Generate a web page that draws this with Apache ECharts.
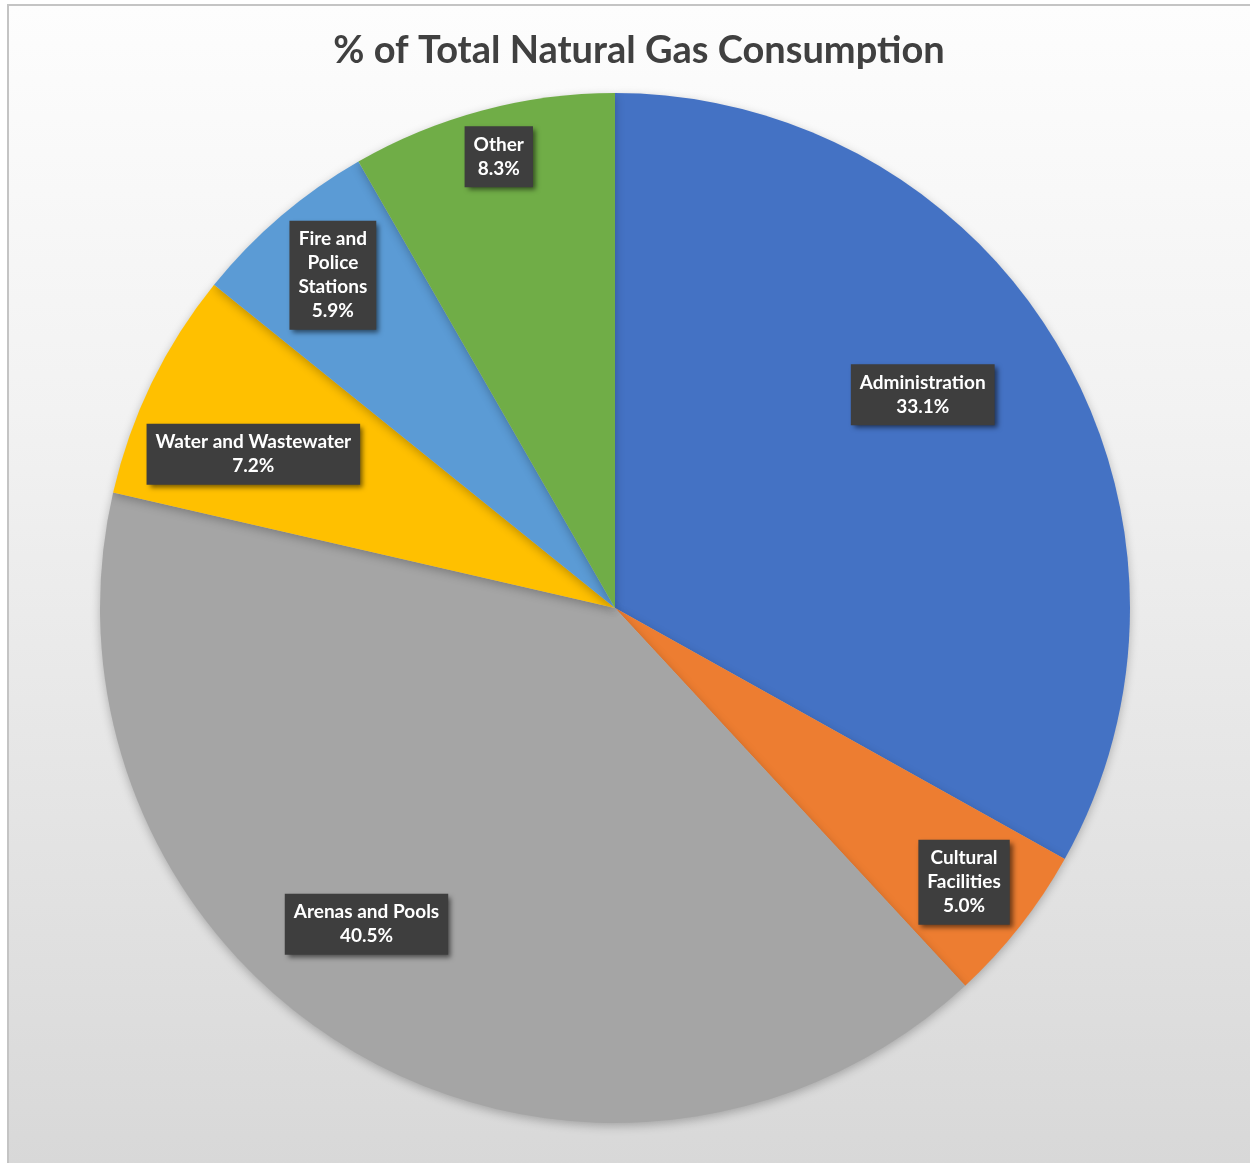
<!DOCTYPE html>
<html>
<head>
<meta charset="utf-8">
<title>% of Total Natural Gas Consumption</title>
<script src="https://cdn.jsdelivr.net/npm/echarts@6/dist/echarts.min.js"></script>
<style>
  html, body { margin: 0; padding: 0; width: 1250px; height: 1163px; overflow: hidden; background: #ffffff; }
  #frame {
    position: absolute; left: 7px; top: 4px; width: 1243px; height: 1159px;
    border-left: 2px solid #c4c4c4; border-top: 2px solid #c4c4c4;
    background: linear-gradient(to bottom, #fdfdfd 0%, #f2f2f2 35%, #e6e6e6 65%, #d8d8d8 100%);
  }
  #chart { position: absolute; left: 0; top: 0; width: 1250px; height: 1163px; }
</style>
</head>
<body>
<div id="frame"></div>
<div id="chart"></div>
<script>
// Share of natural gas consumption by facility type (percent)
const categories = [
  'Administration',
  'Cultural\nFacilities',
  'Arenas and Pools',
  'Water and Wastewater',
  'Fire and\nPolice\nStations',
  'Other'
];
const shares = [33.1, 5.0, 40.5, 7.2, 5.9, 8.3];
const sliceColors = ['#4472C4', '#ED7D31', '#A5A5A5', '#FFC000', '#5B9BD5', '#70AD47'];

// Label placement inside each slice: fraction of radius, and angular nudge (degrees)
const labelRadius = [0.727, 0.862, 0.781, 0.763, 0.847, 0.905];
const labelAngleShift = [4.3, 0, -8.1, 2.9, -0.2, -0.5];

const CX = 615, CY = 608, R = 515;
const total = shares.reduce((a, b) => a + b, 0);

// mid-angle of each slice (degrees, counter-clockwise from +x), starting at 12 o'clock going clockwise
const midAngles = [];
let acc = 0;
shares.forEach(v => {
  midAngles.push(90 - 360 * (acc + v / 2) / total);
  acc += v;
});

const chart = echarts.init(document.getElementById('chart'), null, { renderer: 'canvas' });

chart.setOption({
  backgroundColor: 'transparent',
  animation: false,
  title: {
    text: '% of Total Natural Gas Consumption',
    left: 634,
    textAlign: 'center',
    top: 27,
    textStyle: {
      fontFamily: 'Lato',
      fontWeight: 'bold',
      fontSize: 38,
      color: '#404040'
    }
  },
  series: [{
    type: 'pie',
    center: [CX, CY],
    radius: [0, R],
    startAngle: 90,
    clockwise: true,
    avoidLabelOverlap: false,
    itemStyle: {
      borderWidth: 0,
      shadowBlur: 10,
      shadowOffsetY: 3,
      shadowColor: 'rgba(0,0,0,0.25)'
    },
    label: {
      show: true,
      position: 'inside',
      formatter: p => p.name + '\n' + p.value.toFixed(1) + '%',
      fontFamily: 'Lato',
      fontWeight: 'bold',
      fontSize: 19,
      lineHeight: 24,
      color: '#ffffff',
      align: 'center',
      verticalAlign: 'middle',
      backgroundColor: '#3e3e3e',
      padding: [7, 9, 6, 9],
      shadowBlur: 5,
      shadowOffsetX: 3,
      shadowOffsetY: 3,
      shadowColor: 'rgba(0,0,0,0.55)'
    },
    labelLine: { show: false },
    emphasis: { disabled: true },
    labelLayout: function (params) {
      const i = params.dataIndex;
      const a = (midAngles[i] + labelAngleShift[i]) * Math.PI / 180;
      const r = labelRadius[i] * R;
      return {
        x: CX + r * Math.cos(a),
        y: CY - r * Math.sin(a),
        align: 'center',
        verticalAlign: 'middle'
      };
    },
    data: categories.map((name, i) => ({
      name: name,
      value: shares[i],
      itemStyle: { color: sliceColors[i] }
    }))
  }]
});
</script>
</body>
</html>
